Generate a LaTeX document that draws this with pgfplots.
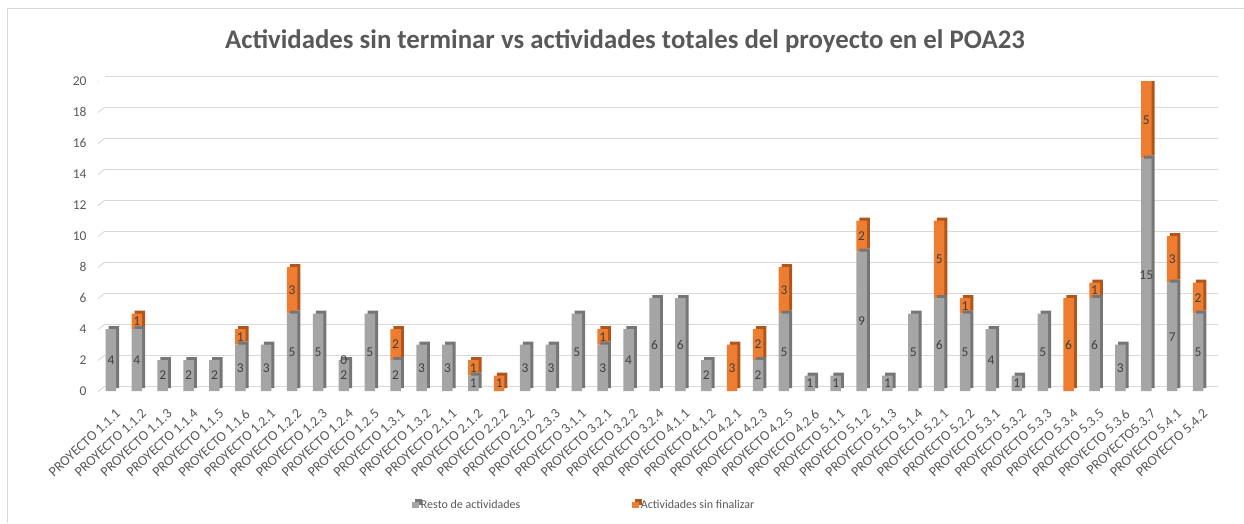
\documentclass[border=0pt]{standalone}
\usepackage{pgfplots}
\pgfplotsset{compat=1.18}
\usepackage{pgfplotstable}
\usepackage{fontspec}
\setmainfont{Carlito}

\definecolor{gbar}{HTML}{A5A5A5}
\definecolor{obar}{HTML}{ED7D31}
\definecolor{gside}{HTML}{767676}
\definecolor{oside}{HTML}{B0561C}
\definecolor{txt}{HTML}{595959}
\definecolor{lbl}{HTML}{404040}
\definecolor{gridc}{HTML}{D9D9D9}

\pgfplotstableread{
x g o gl ol
0 4 0 4 {}
1 4 1 4 1
2 2 0 2 {}
3 2 0 2 {}
4 2 0 2 {}
5 3 1 3 1
6 3 0 3 {}
7 5 3 5 3
8 5 0 5 {}
9 2 0 2 0
10 5 0 5 {}
11 2 2 2 2
12 3 0 3 {}
13 3 0 3 {}
14 1 1 1 1
15 0 1 {} 1
16 3 0 3 {}
17 3 0 3 {}
18 5 0 5 {}
19 3 1 3 1
20 4 0 4 {}
21 6 0 6 {}
22 6 0 6 {}
23 2 0 2 {}
24 0 3 {} 3
25 2 2 2 2
26 5 3 5 3
27 1 0 1 {}
28 1 0 1 {}
29 9 2 9 2
30 1 0 1 {}
31 5 0 5 {}
32 6 5 6 5
33 5 1 5 1
34 4 0 4 {}
35 1 0 1 {}
36 5 0 5 {}
37 0 6 {} 6
38 6 1 6 1
39 3 0 3 {}
40 15 5 15 5
41 7 3 7 3
42 5 2 5 2
}\data

\pgfplotsset{
  common/.style={
    width=1113pt, height=310pt, scale only axis,
    at={(98pt,132pt)}, anchor=south west,
    xmin=-0.5, xmax=42.5, ymin=0, ymax=20,
  }
}

\begin{document}
\begin{tikzpicture}
\useasboundingbox (0,0) rectangle (1244pt,523pt);
\draw[gridc, line width=0.8pt] (7pt,0) -- (7pt,515pt) -- (1244pt,515pt);

\begin{axis}[common,
  ybar stacked, bar width=10.5pt,
  /pgf/number format/assume math mode=true,
  axis line style={draw=none}, tick style={draw=none},
  ytick={0,2,...,20},
  xtick={0,...,42},
  xticklabels={PROYECTO 1.1.1,PROYECTO 1.1.2,PROYECTO 1.1.3,PROYECTO 1.1.4,PROYECTO 1.1.5,PROYECTO 1.1.6,PROYECTO 1.2.1,PROYECTO 1.2.2,PROYECTO 1.2.3,PROYECTO 1.2.4,PROYECTO 1.2.5,PROYECTO 1.3.1,PROYECTO 1.3.2,PROYECTO 2.1.1,PROYECTO 2.1.2,PROYECTO 2.2.2,PROYECTO 2.3.2,PROYECTO 2.3.3,PROYECTO 3.1.1,PROYECTO 3.2.1,PROYECTO 3.2.2,PROYECTO 3.2.4,PROYECTO 4.1.1,PROYECTO 4.1.2,PROYECTO 4.2.1,PROYECTO 4.2.3,PROYECTO 4.2.5,PROYECTO 4.2.6,PROYECTO 5.1.1,PROYECTO 5.1.2,PROYECTO 5.1.3,PROYECTO 5.1.4,PROYECTO 5.2.1,PROYECTO 5.2.2,PROYECTO 5.3.1,PROYECTO 5.3.2,PROYECTO 5.3.3,PROYECTO 5.3.4,PROYECTO 5.3.5,PROYECTO 5.3.6,PROYECTO5.3.7,PROYECTO 5.4.1,PROYECTO 5.4.2},
  xticklabel style={xshift=4pt, yshift=-17pt, rotate=43, anchor=north east, font=\fontsize{14}{15}\selectfont, text=txt, inner sep=0pt},
  yticklabel style={font=\fontsize{13.5}{14}\selectfont, text=txt, xshift=-8pt},
  ymajorgrids, grid style={gridc, line width=0.9pt, xshift=7pt, yshift=5pt},
  legend style={at={(0.437,-0.368)}, anchor=center, draw=none, fill=none,
    legend columns=2, font=\fontsize{12}{13}\selectfont, text=txt,
    /tikz/every even column/.append style={column sep=110pt}},
]
\addplot[fill=gbar, draw=none, preaction={fill=gside, transform canvas={xshift=3pt, yshift=3pt}},
  legend image code/.code={\fill[gbar] (-2.5pt,-3pt) rectangle (4pt,3.5pt);}] table[x=x, y=g] {\data};
\addplot[fill=obar, draw=none, preaction={fill=oside, transform canvas={xshift=3pt, yshift=3pt}},
  legend image code/.code={\fill[obar] (-2.5pt,-3pt) rectangle (4pt,3.5pt);}] table[x=x, y=o] {\data};
\legend{Resto de actividades, Actividades sin finalizar}
\pgfplotsinvokeforeach{0,2,...,20}{
  \draw[gridc, line width=0.9pt] ([xshift=-3pt,yshift=-3pt]axis cs:-0.5,#1) -- ([xshift=7pt,yshift=5pt]axis cs:-0.5,#1);
}
\end{axis}

\begin{axis}[common, hide axis,
  every node near coord/.append style={anchor=center, font=\fontsize{13.5}{14}\selectfont, text=lbl, inner sep=0pt},
]
\addplot[only marks, mark=*, mark size=0pt, nodes near coords, point meta=explicit symbolic]
  table[x=x, y expr=\thisrow{g}/2, meta=gl] {\data};
\addplot[only marks, mark=*, mark size=0pt, nodes near coords, point meta=explicit symbolic]
  table[x=x, y expr=\thisrow{g}+\thisrow{o}/2, meta=ol] {\data};
\end{axis}

\node[font=\bfseries\fontsize{26.8}{30}\selectfont, text=txt] at (625pt,482pt) {Actividades sin terminar vs actividades totales del proyecto en el POA23};
\end{tikzpicture}
\end{document}
